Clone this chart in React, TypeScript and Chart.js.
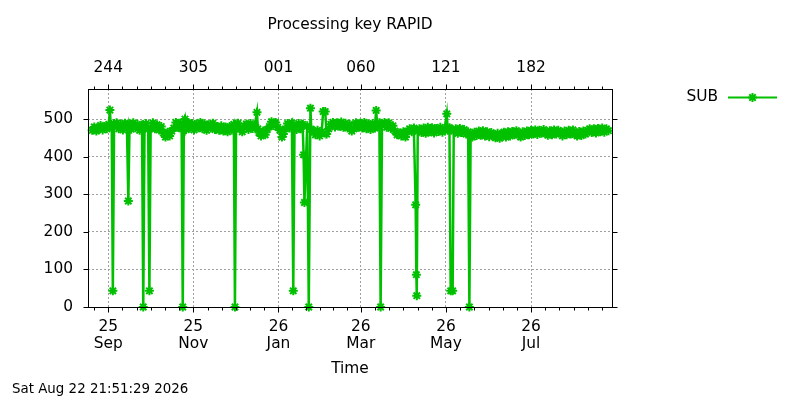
import { useEffect, useRef } from "react"
import Chart from "chart.js/auto"

// x values are days counted from 1 Sep 2025
const X_MIN = -14.5
const X_MAX = 361
const Y_MAX = 580

const MONTH_TICKS = [0, 61, 122, 181, 242, 303]
const MONTH_LABELS = [["25", "Sep"], ["25", "Nov"], ["26", "Jan"], ["26", "Mar"], ["26", "May"], ["26", "Jul"]]
const DOY_LABELS = ["244", "305", "001", "060", "121", "182"]
const Y_TICKS = [0, 100, 200, 300, 400, 500]

const SUB_DAYS = [
  -11.5, -10, -8.5, -7, -5.5, -4, -2.5, -1, 0.4, 1.2, 1.8,
  2.5, 3.3, 4.2,
  6, 7.5, 9, 10.5, 12, 13.4, 14.4, 15.3,
  16.5, 18, 19.5, 21, 22.5, 24.2, 25.1, 26,
  27, 28.6, 29.5, 30.4, 32, 33.5, 35, 36.5, 38,
  39.5, 41, 42.5, 44, 45.5, 47, 48.5, 50, 51.5, 52.6,
  53.4, 54.2, 55, 55.8, 57, 58.5, 60, 61.5, 63,
  64.5, 66, 67.5, 69, 70.5, 72, 73.5, 75, 76.5, 78,
  79.5, 81, 82.5, 84, 85.5, 87, 88.5, 90, 90.8, 91.6,
  93, 94.5, 96, 97.5, 99, 100.5, 102, 103.5, 105, 106.6,
  107.2, 108, 109.5, 111, 112.5, 114, 115.5, 117, 118.5, 120,
  121.5, 123, 124.5, 125.5, 127, 128.5, 130, 131.6, 132.6, 133.5,
  135, 136.5, 138, 139.3, 140, 140.6, 142.6, 143.7, 144.9, 145.5,
  147, 148.5, 150, 151.5, 153, 154, 155.5, 156.5, 158, 159.5,
  161, 162.5, 164, 165.5, 167, 168.5, 170, 171.5, 173, 174.5,
  176, 177.5, 179, 180.5, 182, 183.5, 185, 186.5, 188, 189.5,
  191, 192, 192.8, 194.3, 195.2, 196.2, 198, 199.5, 201, 202.5,
  204, 205.5, 207, 208.5, 210, 211.5, 213, 214.5, 216, 217.5,
  219, 220.3, 220.8, 221.1, 221.8, 223, 224.5, 226, 227.5, 229,
  230.5, 232, 233.5, 235, 236.5, 238, 239.5, 241, 242.6, 243.3,
  244.5, 245.4, 246.8, 247.6, 249, 250.5, 252, 253.5, 255, 256.5,
  257.9, 258.8, 259.7, 261, 262.5, 264, 265.5, 267, 268.5, 270,
  271.5, 273, 274.5, 276, 277.5, 279, 280.5, 282, 283.5, 285,
  286.5, 288, 289.5, 291, 292.5, 294, 295.5, 297, 298.5, 300,
  301.5, 303, 304.5, 306, 307.5, 309, 310.5, 312, 313.5, 315,
  316.5, 318, 319.5, 321, 322.5, 324, 325.5, 327, 328.5, 330,
  331.5, 333, 334.5, 336, 337.5, 339, 340.5, 342, 343.5, 345,
  346.5, 348, 349.5, 351, 352.5, 354, 355.5, 357, 358.5,
]

const SUB_VALUES = [
  470, 479, 468, 476, 483, 471, 480, 474, 486, 524, 481,
  478, 43, 488,
  490, 474, 486, 471, 489, 476, 282, 487,
  473, 490, 477, 486, 470, 484, 0, 478,
  488, 473, 43, 476, 490, 474, 485, 471, 480,
  463, 452, 465, 455, 468, 476, 491, 478, 489, 474,
  0, 486, 500, 472, 490, 476, 488, 471, 486,
  477, 491, 474, 487, 470, 485, 476, 489, 472, 480,
  470, 482, 468, 479, 466, 480, 471, 486, 0, 477,
  489, 474, 466, 481, 487, 472, 488, 475, 484, 518,
  474, 464, 455, 468, 458, 472, 480, 493, 483, 491,
  478, 470, 452, 460, 474, 488, 476, 490, 43, 481,
  472, 488, 474, 486, 405, 278, 482, 0, 529, 473,
  468, 458, 470, 455, 466, 520, 520, 460, 474, 486,
  491, 479, 490, 481, 492, 478, 489, 476, 486, 468,
  474, 490, 478, 489, 476, 491, 474, 487, 472, 488,
  476, 523, 480, 490, 0, 484, 491, 478, 490, 475,
  482, 468, 458, 463, 455, 466, 452, 468, 474, 466,
  476, 272, 86, 30, 468, 474, 464, 476, 462, 478,
  466, 477, 463, 475, 467, 478, 465, 474, 514, 470,
  477, 43, 43, 468, 474, 462, 475, 464, 472, 460,
  466, 0, 458, 452, 465, 456, 468, 457, 469, 455,
  466, 453, 464, 456, 450, 462, 449, 460, 465, 452,
  466, 455, 467, 458, 469, 457, 452, 466, 456, 468,
  458, 470, 460, 471, 459, 470, 462, 472, 461, 457,
  469, 458, 471, 460, 470, 462, 455, 468, 458, 470,
  460, 471, 459, 455, 467, 456, 468, 460, 470, 474,
  464, 474, 463, 475, 466, 476, 465, 474, 469,
]

const GREEN = "#00c000"
const GRID = "#a0a0a0"
const FONT = "DejaVu Sans"
const FONT_SIZE = 15.4
const MARK_R = 4.5

function drawStar(ctx: CanvasRenderingContext2D, x: number, y: number, r: number) {
  const d = r * Math.SQRT1_2
  ctx.beginPath()
  ctx.moveTo(x - r, y); ctx.lineTo(x + r, y)
  ctx.moveTo(x, y - r); ctx.lineTo(x, y + r)
  ctx.moveTo(x - d, y - d); ctx.lineTo(x + d, y + d)
  ctx.moveTo(x - d, y + d); ctx.lineTo(x + d, y - d)
  ctx.stroke()
}

// border, outward ticks (major + minor) and the loose texts, gnuplot style
const framePlugin = {
  id: "frame",
  afterDatasetsDraw(chart: any) {
    const { ctx, chartArea: a, scales } = chart
    const xs = scales.x
    const ys = scales.y
    const L = Math.round(a.left) + 0.5
    const R = Math.round(a.right) + 0.5
    const T = Math.round(a.top) + 0.5
    const B = Math.round(a.bottom) + 0.5
    ctx.save()
    ctx.strokeStyle = "#000"
    ctx.lineWidth = 1
    ctx.strokeRect(L, T, R - L, B - T)

    const line = (x1: number, y1: number, x2: number, y2: number) => {
      ctx.beginPath()
      ctx.moveTo(x1, y1)
      ctx.lineTo(x2, y2)
      ctx.stroke()
    }
    const xTick = (v: number, len: number) => {
      if (v < X_MIN || v > X_MAX) return
      const px = Math.round(xs.getPixelForValue(v)) + 0.5
      line(px, B, px, B + len)
      line(px, T, px, T - len)
    }

    MONTH_TICKS.forEach((v) => xTick(v, 5))
    const step0 = (MONTH_TICKS[1] - MONTH_TICKS[0]) / 6
    for (let v = MONTH_TICKS[0] - step0; v > X_MIN; v -= step0) xTick(v, 3)
    for (let i = 0; i < MONTH_TICKS.length - 1; i++) {
      const s = (MONTH_TICKS[i + 1] - MONTH_TICKS[i]) / 6
      for (let k = 1; k < 6; k++) xTick(MONTH_TICKS[i] + k * s, 3)
    }
    const last = MONTH_TICKS[MONTH_TICKS.length - 1]
    for (let v = last + step0; v < X_MAX; v += step0) xTick(v, 3)

    Y_TICKS.forEach((v) => {
      const py = Math.round(ys.getPixelForValue(v)) + 0.5
      line(L, py, L - 5, py)
      line(R, py, R + 5, py)
    })
    ctx.restore()
  },
  afterDraw(chart: any) {
    const { ctx, chartArea: a } = chart
    const cx = (a.left + a.right) / 2
    ctx.save()
    ctx.fillStyle = "#000"
    ctx.textBaseline = "middle"
    ctx.font = `${FONT_SIZE}px "${FONT}"`
    ctx.textAlign = "center"
    ctx.fillText("Processing key RAPID", cx, 25)
    ctx.fillText("Time", cx, 369)
    ctx.textAlign = "right"
    ctx.fillText("SUB", 718, 97)

    ctx.strokeStyle = GREEN
    ctx.lineWidth = 2
    ctx.beginPath()
    ctx.moveTo(728, 97.5)
    ctx.lineTo(777, 97.5)
    ctx.stroke()
    drawStar(ctx, 752.5, 97.5, MARK_R)

    ctx.font = `13.4px "${FONT}"`
    ctx.textAlign = "left"
    ctx.fillText("Sat Aug 22 21:51:29 2026", 12, 390)
    ctx.restore()
  },
}

export default function App() {
  const canvasRef = useRef<HTMLCanvasElement>(null)
  const chartRef = useRef<Chart | null>(null)

  useEffect(() => {
    document.body.style.margin = "0"
    if (!canvasRef.current) return
    if (chartRef.current) chartRef.current.destroy()

    const tickFont = { family: FONT, size: FONT_SIZE, lineHeight: 1.08 }

    chartRef.current = new Chart(canvasRef.current, {
      type: "line",
      data: {
        datasets: [
          {
            label: "SUB",
            data: SUB_DAYS.map((d, i) => ({ x: d, y: SUB_VALUES[i] })),
            borderColor: GREEN,
            backgroundColor: GREEN,
            borderWidth: 2.5,
            pointStyle: "star",
            pointRadius: MARK_R,
            pointBorderWidth: 2,
            pointBorderColor: GREEN,
            pointBackgroundColor: GREEN,
            tension: 0,
            clip: false as any,
            xAxisID: "x",
            yAxisID: "y",
          },
        ],
      },
      options: {
        animation: false,
        responsive: false,
        layout: { padding: { left: 0, right: 188, top: 0, bottom: 0 } },
        plugins: {
          legend: { display: false },
          title: { display: false },
          tooltip: { enabled: false },
        },
        scales: {
          x: {
            type: "linear",
            position: "bottom",
            min: X_MIN,
            max: X_MAX,
            afterBuildTicks: (s: any) => {
              s.ticks = MONTH_TICKS.map((value) => ({ value }))
            },
            afterFit: (s: any) => {
              s.height = 93
            },
            ticks: {
              autoSkip: false,
              maxRotation: 0,
              minRotation: 0,
              padding: 12,
              color: "#000",
              font: tickFont,
              callback: (_v: any, i: number) => MONTH_LABELS[i],
            },
            grid: { color: GRID, lineWidth: 1, drawTicks: false },
            border: { display: false, dash: [2, 2] },
          },
          x2: {
            type: "linear",
            position: "top",
            min: X_MIN,
            max: X_MAX,
            afterBuildTicks: (s: any) => {
              s.ticks = MONTH_TICKS.map((value) => ({ value }))
            },
            afterFit: (s: any) => {
              s.height = 89
            },
            ticks: {
              autoSkip: false,
              maxRotation: 0,
              minRotation: 0,
              padding: 13,
              color: "#000",
              font: tickFont,
              callback: (_v: any, i: number) => DOY_LABELS[i],
            },
            grid: { display: false, drawTicks: false },
            border: { display: false },
          },
          y: {
            type: "linear",
            position: "left",
            min: 0,
            max: Y_MAX,
            afterBuildTicks: (s: any) => {
              s.ticks = Y_TICKS.map((value) => ({ value }))
            },
            afterFit: (s: any) => {
              s.width = 88
            },
            ticks: {
              padding: 15,
              color: "#000",
              font: tickFont,
              callback: (v: any) => String(v),
            },
            grid: { color: GRID, lineWidth: 1, drawTicks: false },
            border: { display: false, dash: [2, 2] },
          },
        },
      },
      plugins: [framePlugin],
    })

    return () => {
      if (chartRef.current) {
        chartRef.current.destroy()
        chartRef.current = null
      }
    }
  }, [])

  return (
    <div style={{ width: 800, height: 400, background: "#fff" }}>
      <canvas ref={canvasRef} width={800} height={400}></canvas>
    </div>
  )
}
